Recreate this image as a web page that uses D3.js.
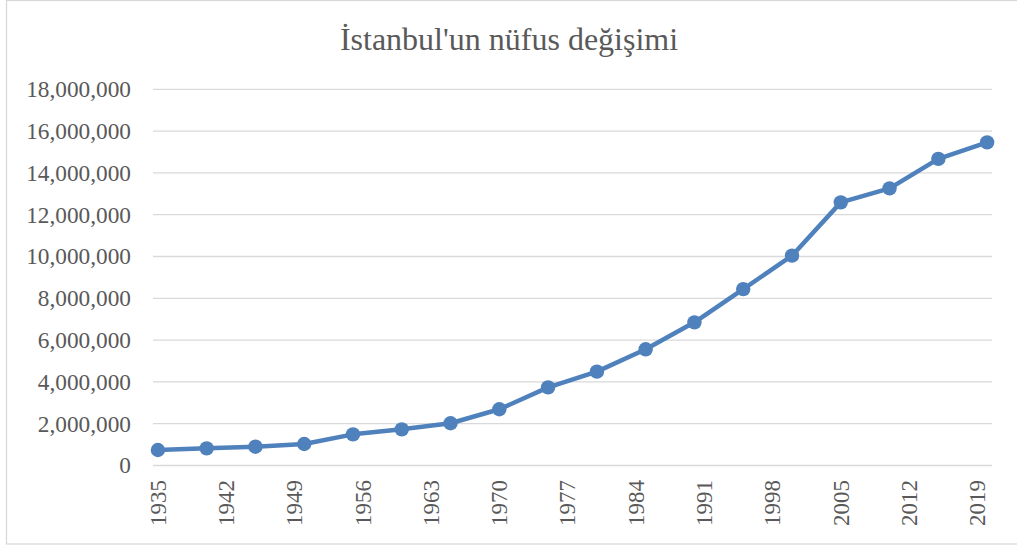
<!DOCTYPE html>
<html>
<head>
<meta charset="utf-8">
<script src="https://cdn.jsdelivr.net/npm/d3@7"></script>
<style>
  html, body { margin: 0; padding: 0; background: #fff; }
  svg { display: block; }
</style>
</head>
<body>
<svg id="chart" width="1017" height="548"></svg>
<script>
const years = [1935, 1940, 1945, 1950, 1955, 1960, 1965, 1970, 1975, 1980, 1985, 1990, 1995, 2000, 2005, 2010, 2015, 2020];
const population = [741148, 820000, 900000, 1030000, 1490000, 1730000, 2020000, 2690000, 3740000, 4490000, 5560000, 6850000, 8440000, 10040000, 12590000, 13260000, 14670000, 15460000];
const xTickLabels = [1935, 1942, 1949, 1956, 1963, 1970, 1977, 1984, 1991, 1998, 2005, 2012, 2019];
const yTicks = [0, 2000000, 4000000, 6000000, 8000000, 10000000, 12000000, 14000000, 16000000, 18000000];
const title = "İstanbul'un nüfus değişimi";

const svg = d3.select("#chart");
const font = "'Liberation Serif', 'Times New Roman', serif";
const textColor = "#595959";

// outer border
svg.append("rect")
  .attr("x", 6.5).attr("y", 0.5)
  .attr("width", 1030).attr("height", 543.5)
  .attr("fill", "none").attr("stroke", "#d9d9d9").attr("stroke-width", 1.3);

const x = d3.scaleLinear().domain([1934.5, 2020.5]).range([153, 992]);
const y = d3.scaleLinear().domain([0, 18000000]).range([465.5, 89.3]);

// title
svg.append("text")
  .attr("x", 509).attr("y", 49.5)
  .attr("text-anchor", "middle")
  .attr("font-family", font).attr("font-size", 32)
  .attr("fill", textColor)
  .text(title);

// gridlines
svg.append("g").selectAll("line").data(yTicks).join("line")
  .attr("x1", 153).attr("x2", 992)
  .attr("y1", d => y(d)).attr("y2", d => y(d))
  .attr("stroke", "#d9d9d9").attr("stroke-width", 1.3);

// y axis labels
const fmt = d3.format(",");
svg.append("g").selectAll("text").data(yTicks).join("text")
  .attr("x", 131).attr("y", d => y(d))
  .attr("dy", "0.34em")
  .attr("text-anchor", "end")
  .attr("font-family", font).attr("font-size", 23.3)
  .attr("fill", textColor)
  .text(d => fmt(d));

// x axis labels
svg.append("g").selectAll("text").data(xTickLabels).join("text")
  .attr("transform", d => `translate(${x(d)},480) rotate(-90)`)
  .attr("dy", "0.34em")
  .attr("text-anchor", "end")
  .attr("font-family", font).attr("font-size", 23)
  .attr("fill", textColor)
  .text(d => d);

const data = years.map((yr, i) => ({ yr, v: population[i] }));
const color = "#4f81bd";

svg.append("path")
  .datum(data)
  .attr("fill", "none")
  .attr("stroke", color)
  .attr("stroke-width", 4.5)
  .attr("stroke-linejoin", "round")
  .attr("d", d3.line().x(d => x(d.yr)).y(d => y(d.v)));

svg.append("g").selectAll("circle").data(data).join("circle")
  .attr("cx", d => x(d.yr)).attr("cy", d => y(d.v))
  .attr("r", 7.2)
  .attr("fill", color);
</script>
</body>
</html>
